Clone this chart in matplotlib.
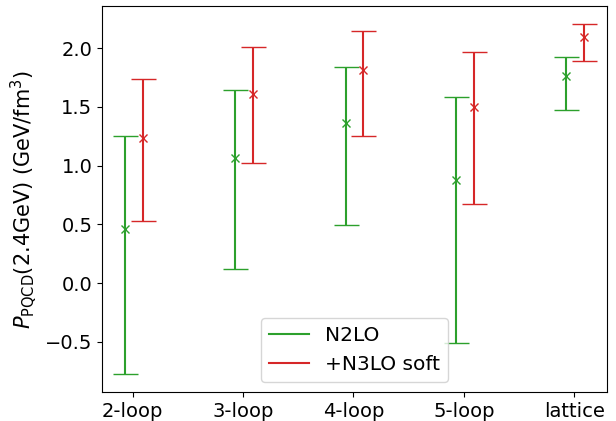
import numpy as np
import matplotlib
matplotlib.use('Agg')
import matplotlib.pyplot as plt
from matplotlib.lines import Line2D

labels = ['2-loop', '3-loop', '4-loop', '5-loop', 'lattice']

# N2LO: central value, lower and upper ends of the band
n2lo_mid = [0.46, 1.06, 1.36, 0.875, 1.76]
n2lo_low = [-0.778, 0.117, 0.492, -0.509, 1.472]
n2lo_up = [1.247, 1.645, 1.835, 1.586, 1.921]

# +N3LO soft
n3lo_mid = [1.233, 1.61, 1.813, 1.494, 2.091]
n3lo_low = [0.528, 1.025, 1.253, 0.673, 1.89]
n3lo_up = [1.733, 2.01, 2.148, 1.969, 2.208]

plt.rcParams['font.size'] = 14

x = np.arange(len(labels))
fig = plt.figure(figsize=(6.16, 4.21), dpi=100)
ax = fig.add_subplot(111)
fig.subplots_adjust(left=0.1656, right=0.9854, top=0.9857, bottom=0.0689)

for xs, mid, low, up, col in [(x - 0.07, n2lo_mid, n2lo_low, n2lo_up, 'tab:green'),
                              (x + 0.09, n3lo_mid, n3lo_low, n3lo_up, 'tab:red')]:
    mid = np.array(mid)
    yerr = [mid - np.array(low), np.array(up) - mid]
    ax.errorbar(xs, mid, yerr=yerr, fmt='x', color=col, capsize=9)

ax.set_xticks(x)
ax.set_xticklabels(labels)
ax.set_ylabel(r'$P_{\rm PQCD}$(2.4GeV) (GeV/fm$^3$)', fontsize=15)

handles = [Line2D([], [], color='tab:green'), Line2D([], [], color='tab:red')]
ax.legend(handles, ['N2LO', '+N3LO soft'], loc='lower center', fontsize=14.5)

plt.savefig('out.png', dpi=100)
